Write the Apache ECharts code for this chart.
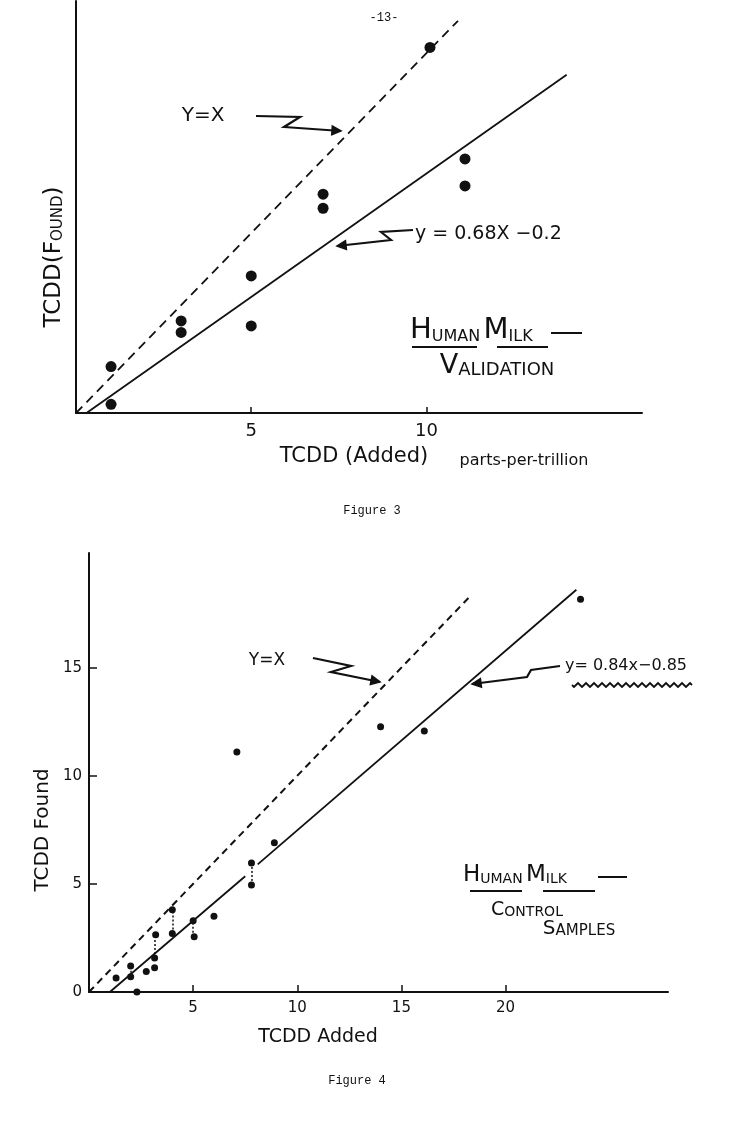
<!DOCTYPE html>
<html>
<head>
<meta charset="utf-8">
<script src="https://cdn.jsdelivr.net/npm/echarts@6/dist/echarts.min.js"></script>
<style>
html,body{margin:0;padding:0;background:#fff;}
#chart{width:749px;height:1127px;}
</style>
</head>
<body>
<div id="chart"></div>
<script>
// ---------- Figure 3 data (parts-per-trillion) ----------
const fig3Added = [1, 1, 3, 3, 5, 5, 7.05, 7.05, 10.1, 11.1, 11.1];
const fig3Found = [1.29, 0.24, 2.56, 2.24, 3.81, 2.42, 6.08, 5.69, 10.16, 7.06, 6.31];
const fig3IdentityLine = [[0, 0], [10.9, 10.9]];          // y = x (dashed)
const fig3FitLine = [[0.3, 0], [14, 9.4]];                // y = 0.68x - 0.2 as drawn
const fig3XTicks = [5, 10];

// ---------- Figure 4 data ----------
const fig4Added = [1.3, 2, 2, 2.75, 3.15, 3.15, 3.2, 4, 4, 5, 5.05, 6, 7.1, 7.8, 7.8, 8.9, 14, 16.1, 23.6, 2.3];
const fig4Found = [0.65, 1.2, 0.7, 0.95, 1.12, 1.57, 2.65, 2.7, 3.8, 3.3, 2.55, 3.5, 11.1, 5.97, 4.95, 6.9, 12.27, 12.07, 18.16, 0];
const fig4PairX = [2, 3.15, 4, 5, 7.8];
const fig4PairLow = [0.7, 1.57, 2.7, 2.55, 4.95];
const fig4PairHigh = [1.2, 2.65, 3.8, 3.3, 5.97];
const fig4IdentityLine = [[0, 0], [18.3, 18.3]];          // y = x (dashed)
const fig4FitLineA = [[1.0, 0], [7.5, 5.35]];             // y = 0.84x - 0.85 as drawn
const fig4FitLineB = [[8.1, 5.9], [23.4, 18.6]];
const fig4XTicks = [5, 10, 15, 20];
const fig4YTicks = [5, 10, 15];
const fig4YLabels = [0, 5, 10, 15];

const INK = '#111';
const HAND = "'DejaVu Sans', 'Liberation Sans', sans-serif";
const MONO = "'Liberation Mono', 'DejaVu Sans Mono', monospace";

function zip(a, b) { return a.map((v, i) => [v, b[i]]); }

// ---------- decorations (pixel placed annotations) ----------
function arrow(pts) {
  const n = pts.length;
  const [x1, y1] = pts[n - 2], [x2, y2] = pts[n - 1];
  const ang = Math.atan2(y2 - y1, x2 - x1);
  const L = 10, w = 0.45;
  const h1 = [x2 - L * Math.cos(ang - w), y2 - L * Math.sin(ang - w)];
  const h2 = [x2 - L * Math.cos(ang + w), y2 - L * Math.sin(ang + w)];
  return [
    { type: 'polyline', shape: { points: pts }, style: { stroke: INK, lineWidth: 2.2, fill: null } },
    { type: 'polygon', shape: { points: [h1, [x2, y2], h2] }, style: { fill: INK, stroke: INK, lineWidth: 1.5 } }
  ];
}
function seg(x1, y1, x2, y2, lw) {
  return { type: 'line', shape: { x1, y1, x2, y2 }, style: { stroke: INK, lineWidth: lw || 2 } };
}
function txt(text, x, y, size, opts) {
  return Object.assign({
    type: 'text',
    style: Object.assign({ text, x, y, font: size + 'px ' + HAND, fill: INK, align: 'center', verticalAlign: 'middle' }, (opts && opts.style) || {})
  }, (opts && opts.el) || {});
}
function smallCaps(text, x, y, big, small, align) {
  return {
    type: 'text',
    style: {
      text, x, y, fill: INK, align: align || 'left', verticalAlign: 'middle',
      rich: {
        b: { fontSize: big, fontFamily: HAND, fill: INK, verticalAlign: 'bottom' },
        s: { fontSize: small, fontFamily: HAND, fill: INK, verticalAlign: 'bottom' }
      }
    }
  };
}
const wave = [];
for (let x = 572; x <= 692; x += 2) wave.push([x, 685 + 2 * Math.sin((x - 572) / 8 * 2 * Math.PI)]);

const graphic = [].concat(
  [
    { type: 'text', style: { text: '-13-', x: 384, y: 18, font: '12px ' + MONO, fill: INK, align: 'center', verticalAlign: 'middle' } },
    // Figure 3 annotations
    txt('Y=X', 203, 116, 20),
    txt('y = 0.68X −0.2', 415, 234, 19, { style: { align: 'left' } }),
    smallCaps('{b|H}{s|UMAN} {b|M}{s|ILK}', 410, 330, 29, 16),
    seg(412, 347, 477, 347, 2.2), seg(497, 347, 548, 347, 2.2), seg(551, 333, 582, 333, 2),
    smallCaps('{b|V}{s|ALIDATION}', 497, 366, 27, 18, 'center'),
    txt('TCDD (Added)', 354, 457, 21),
    txt('parts-per-trillion', 524, 461, 16),
    { type: 'text', style: { text: 'Figure 3', x: 372, y: 511, font: '12px ' + MONO, fill: INK, align: 'center', verticalAlign: 'middle' } },
    Object.assign(smallCaps('{b|TCDD(F}{s|OUND}{b|)}', 0, 0, 23, 15, 'center'), { x: 54, y: 257, rotation: Math.PI / 2 }),
    // Figure 4 annotations
    txt('Y=X', 267, 661, 17),
    txt('y= 0.84x−0.85', 626, 666, 16),
    { type: 'polyline', shape: { points: wave }, style: { stroke: INK, lineWidth: 1.8, fill: null } },
    smallCaps('{b|H}{s|UMAN} {b|M}{s|ILK}', 463, 875, 23, 14),
    seg(470, 891, 522, 891, 2.2), seg(543, 891, 595, 891, 2.2), seg(598, 877, 627, 877, 2),
    smallCaps('{b|C}{s|ONTROL}', 527, 910, 19, 14, 'center'),
    smallCaps('{b|S}{s|AMPLES}', 579, 929, 20, 15, 'center'),
    txt('TCDD Added', 318, 1037, 19),
    { type: 'text', style: { text: 'Figure 4', x: 357, y: 1081, font: '12px ' + MONO, fill: INK, align: 'center', verticalAlign: 'middle' } },
    Object.assign(txt('TCDD Found', 0, 0, 20), { x: 43, y: 830, rotation: Math.PI / 2 })
  ],
  arrow([[256, 116], [300, 117], [284, 127], [341, 131]]),
  arrow([[413, 230], [381, 232], [391, 240], [337, 246]]),
  arrow([[313, 658], [351, 666], [331, 672], [380, 682]]),
  arrow([[560, 666], [531, 670], [527, 677], [472, 684]])
);

const axisLine = { show: true, onZero: false, lineStyle: { color: INK, width: 2 } };

const option = {
  backgroundColor: '#fff',
  animation: false,
  grid: [
    { left: 76, top: 1, width: 566, height: 412 },
    { left: 89, top: 553, width: 579, height: 439 }
  ],
  xAxis: [
    { gridIndex: 0, type: 'value', min: 0, max: 16.15, splitLine: { show: false }, axisLine,
      axisTick: { show: true, inside: true, length: 6, customValues: fig3XTicks, lineStyle: { color: INK, width: 1.5 } },
      axisLabel: { show: true, customValues: fig3XTicks, margin: 9, fontSize: 18, color: INK, fontFamily: HAND } },
    { gridIndex: 1, type: 'value', min: 0, max: 27.8, splitLine: { show: false }, axisLine,
      axisTick: { show: true, inside: true, length: 7, customValues: fig4XTicks, lineStyle: { color: INK, width: 1.5 } },
      axisLabel: { show: true, customValues: fig4XTicks, margin: 9, fontSize: 15, color: INK, fontFamily: HAND } }
  ],
  yAxis: [
    { gridIndex: 0, type: 'value', min: 0, max: 11.45, splitLine: { show: false }, axisLine,
      axisTick: { show: false }, axisLabel: { show: false } },
    { gridIndex: 1, type: 'value', min: 0, max: 20.3, splitLine: { show: false }, axisLine,
      axisTick: { show: true, inside: true, length: 8, customValues: fig4YTicks, lineStyle: { color: INK, width: 1.5 } },
      axisLabel: { show: true, customValues: fig4YLabels, margin: 7, fontSize: 15, color: INK, fontFamily: HAND } }
  ],
  series: [
    { type: 'line', xAxisIndex: 0, yAxisIndex: 0, data: fig3IdentityLine, showSymbol: false, silent: true,
      lineStyle: { color: INK, width: 1.8, type: [9, 6] } },
    { type: 'line', xAxisIndex: 0, yAxisIndex: 0, data: fig3FitLine, showSymbol: false, silent: true,
      lineStyle: { color: INK, width: 1.8 } },
    { type: 'scatter', xAxisIndex: 0, yAxisIndex: 0, data: zip(fig3Added, fig3Found), symbolSize: 11,
      itemStyle: { color: INK, opacity: 1 }, z: 5 },

    { type: 'line', xAxisIndex: 1, yAxisIndex: 1, data: fig4IdentityLine, showSymbol: false, silent: true,
      lineStyle: { color: INK, width: 2, type: [7, 5] } },
    { type: 'line', xAxisIndex: 1, yAxisIndex: 1, data: fig4FitLineA, showSymbol: false, silent: true,
      lineStyle: { color: INK, width: 1.8 } },
    { type: 'line', xAxisIndex: 1, yAxisIndex: 1, data: fig4FitLineB, showSymbol: false, silent: true,
      lineStyle: { color: INK, width: 1.8 } },
    { type: 'lines', coordinateSystem: 'cartesian2d', xAxisIndex: 1, yAxisIndex: 1, silent: true,
      data: fig4PairX.map((x, i) => ({ coords: [[x, fig4PairLow[i]], [x, fig4PairHigh[i]]] })),
      lineStyle: { color: INK, width: 1.5, type: [2, 2], opacity: 1 } },
    { type: 'scatter', xAxisIndex: 1, yAxisIndex: 1, data: zip(fig4Added, fig4Found), symbolSize: 7,
      itemStyle: { color: INK, opacity: 1 }, z: 5 }
  ],
  graphic
};

const chart = echarts.init(document.getElementById('chart'), null, { renderer: 'canvas' });
chart.setOption(option);
</script>
</body>
</html>
